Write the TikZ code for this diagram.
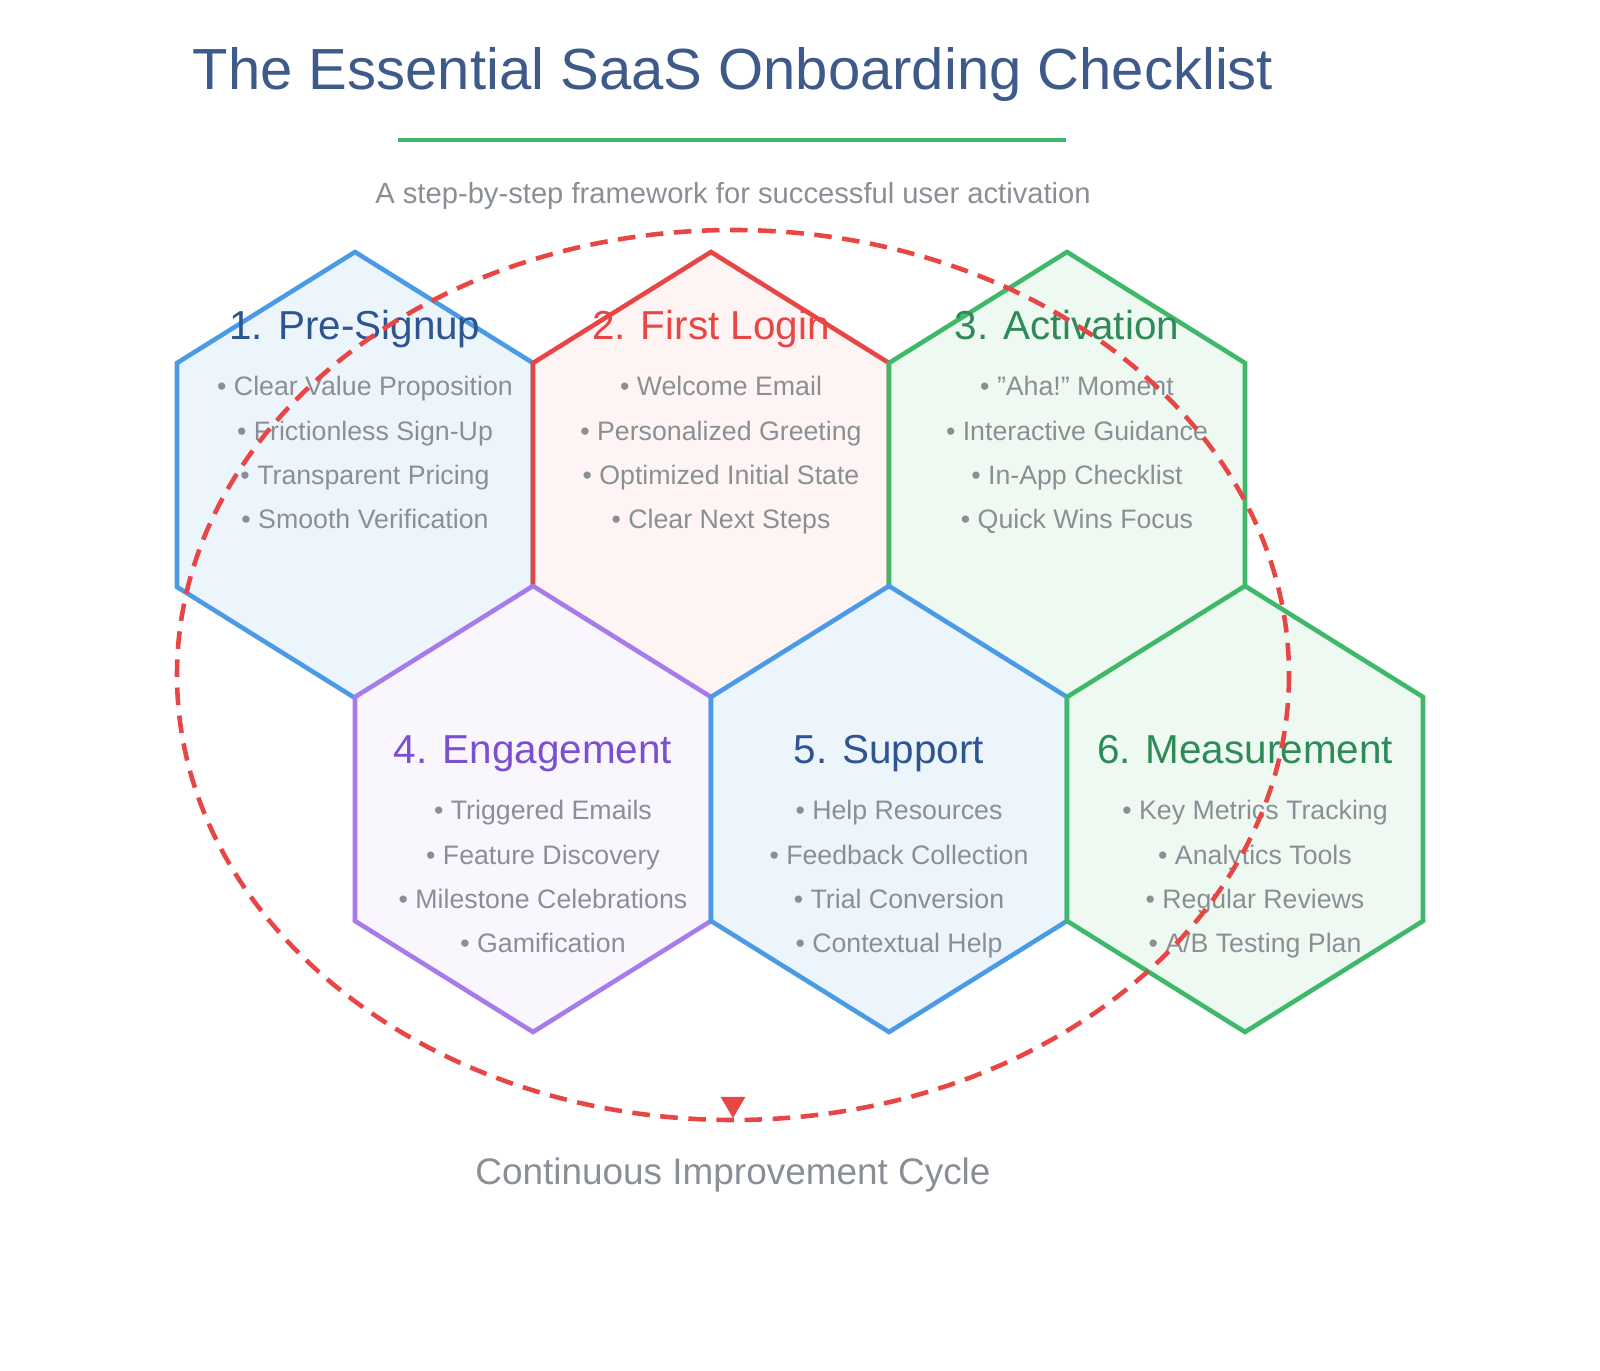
\documentclass[tikz,border=0pt]{standalone}
\usepackage{fontspec}
\setmainfont{Liberation Sans}
\usetikzlibrary{arrows.meta}
\definecolor{titleblue}{HTML}{3D5A8A}
\definecolor{textgray}{HTML}{8A8F96}
\definecolor{cellblue}{HTML}{4A9AE6}
\definecolor{cellred}{HTML}{E84545}
\definecolor{cellgreen}{HTML}{40B86A}
\definecolor{cellpurple}{HTML}{A77BEA}
\definecolor{headblue}{HTML}{2E5590}
\definecolor{headgreen}{HTML}{2E8B57}
\definecolor{headpurple}{HTML}{7B4FD0}
\tikzset{
  blue cell/.style={draw=cellblue, fill=cellblue!10, line width=1.3pt},
  red cell/.style={draw=cellred, fill=cellred!6, line width=1.3pt},
  green cell/.style={draw=cellgreen, fill=cellgreen!9, line width=1.3pt},
  purple cell/.style={draw=cellpurple, fill=cellpurple!7, line width=1.3pt},
  heading/.style={font=\fontsize{11.5}{14}\selectfont, anchor=base},
  items/.style={font=\fontsize{7.6}{12.6}\selectfont, text=textgray, align=center, anchor=north}
}
% one honeycomb cell: name, x, y, style
\newcommand{\honeycell}[4]{%
  \draw[#4] (#2,#3) ++(0,-222) -- ++(178,111) -- ++(0,224) -- ++(-178,111)
    -- ++(-178,-111) -- ++(0,-224) -- cycle;
  \coordinate (#1) at (#2,#3);}
\begin{document}
\begin{tikzpicture}[x=0.01cm, y=-0.01cm]
    \useasboundingbox (0,0) rectangle (1600,1371);
    \node[text=titleblue, font=\fontsize{16.5}{20}\selectfont] (title) at (733,75) {The Essential SaaS Onboarding Checklist};
    \draw[cellgreen, line width=1.3pt] (398,140) -- (1066,140);
    \node[text=textgray, font=\fontsize{8.3}{11}\selectfont] (subtitle) at (733,196) {A step-by-step framework for successful user activation};

    \honeycell{pre}{355}{474}{blue cell}
    \honeycell{login}{711}{474}{red cell}
    \honeycell{act}{1067}{474}{green cell}
    \honeycell{eng}{533}{808}{purple cell}
    \honeycell{sup}{889}{808}{blue cell}
    \honeycell{meas}{1245}{808}{green cell}

    \node[heading, text=headblue] (pre-h) at ([shift={(0,-134)}]pre) {1. Pre-Signup};
    \node[items] (pre-l) at ([shift={(10,-110)}]pre) {• Clear Value Proposition\\• Frictionless Sign-Up\\• Transparent Pricing\\• Smooth Verification};
    \node[heading, text=cellred] (login-h) at ([shift={(0,-134)}]login) {2. First Login};
    \node[items] (login-l) at ([shift={(10,-110)}]login) {• Welcome Email\\• Personalized Greeting\\• Optimized Initial State\\• Clear Next Steps};
    \node[heading, text=headgreen] (act-h) at ([shift={(0,-134)}]act) {3. Activation};
    \node[items] (act-l) at ([shift={(10,-110)}]act) {• \symbol{34}Aha!\symbol{34} Moment\\• Interactive Guidance\\• In-App Checklist\\• Quick Wins Focus};
    \node[heading, text=headpurple] (eng-h) at ([shift={(0,-44)}]eng) {4. Engagement};
    \node[items] (eng-l) at ([shift={(10,-20)}]eng) {• Triggered Emails\\• Feature Discovery\\• Milestone Celebrations\\• Gamification};
    \node[heading, text=headblue] (sup-h) at ([shift={(0,-44)}]sup) {5. Support};
    \node[items] (sup-l) at ([shift={(10,-20)}]sup) {• Help Resources\\• Feedback Collection\\• Trial Conversion\\• Contextual Help};
    \node[heading, text=headgreen] (meas-h) at ([shift={(0,-44)}]meas) {6. Measurement};
    \node[items] (meas-l) at ([shift={(10,-20)}]meas) {• Key Metrics Tracking\\• Analytics Tools\\• Regular Reviews\\• A/B Testing Plan};

    % improvement loop
    \coordinate (loop) at (733,675);
    \draw[cellred, line width=1.3pt, dash pattern=on 5pt off 3pt] (loop) ellipse [x radius=556, y radius=445];
    \coordinate (tip) at (733,1118);
    \draw[cellred, line width=0.1pt, -{Triangle[length=6pt, width=7pt]}] ([shift={(0,-20)}]tip) -- (tip);
    \node[text=textgray, font=\fontsize{10.5}{13}\selectfont] (cycle) at (733,1175) {Continuous Improvement Cycle};
\end{tikzpicture}
\end{document}
